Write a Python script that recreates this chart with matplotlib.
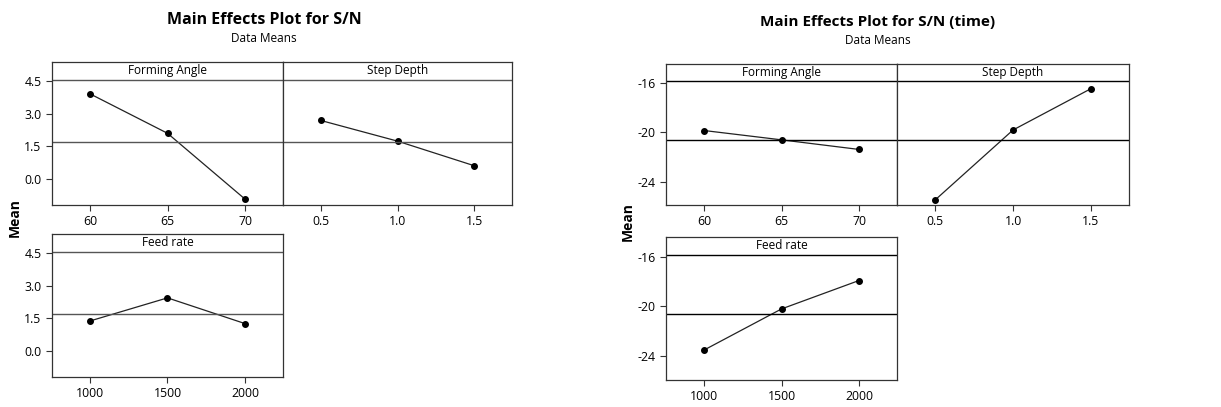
import numpy as np
import matplotlib.pyplot as plt

plt.rcParams['font.family'] = ['Open Sans', 'DejaVu Sans']

# factor levels
angle_levels = [60, 65, 70]
depth_levels = [0.5, 1.0, 1.5]
feed_levels = [1000, 1500, 2000]
factor_names = ['Forming Angle', 'Step Depth', 'Feed rate']

# S/N means (left chart)
sn_angle = [3.91, 2.10, -0.92]
sn_depth = [2.69, 1.74, 0.61]
sn_feed = [1.38, 2.44, 1.26]

# S/N (time) means (right chart)
time_angle = [-19.84, -20.60, -21.38]
time_depth = [-25.49, -19.80, -16.44]
time_feed = [-23.50, -20.20, -17.92]

W, H = 1221, 407
fig = plt.figure(figsize=(W / 100, H / 100), dpi=100)


def box(l, t, r, b):
    return fig.add_axes([l / W, 1 - b / H, (r - l) / W, (b - t) / H])


def panel(ax, x, y, name, ylim, head, grand, yticks, fmt, col, show_y):
    pad = (x[-1] - x[0]) * 0.245
    ax.set_xlim(x[0] - pad, x[-1] + pad)
    ax.set_ylim(*ylim)
    ax.plot(x, y, '-', color='#222222', lw=0.9, marker='o', ms=4, mfc='black', mec='black')
    ax.axhline(grand, color=col, lw=1)
    ax.axhline(head, color=col, lw=1)
    ax.text(np.mean(x), (head + ylim[1]) / 2, name, ha='center', va='center', fontsize=8.5)
    ax.set_xticks(x)
    ax.set_xticklabels([fmt[0] % v for v in x], fontsize=8.8)
    ax.set_yticks(yticks)
    if show_y:
        ax.set_yticklabels([fmt[1] % v for v in yticks], fontsize=8.8)
    else:
        ax.tick_params(axis='y', left=False, labelleft=False)
    ax.tick_params(direction='out', length=4, width=0.8, color='#333333')
    for s in ax.spines.values():
        s.set_color('#333333')
        s.set_linewidth(0.9)


# ---- left chart ----
sn_all = sn_angle + sn_depth + sn_feed
g1 = np.mean(sn_all)
yl1 = (-1.19, 5.37)
panel(box(52, 62, 283, 205), angle_levels, sn_angle, factor_names[0], yl1, 4.56, g1,
      [0, 1.5, 3.0, 4.5], ('%d', '%.1f'), '#555555', True)
panel(box(283, 62, 512, 205), depth_levels, sn_depth, factor_names[1], yl1, 4.56, g1,
      [0, 1.5, 3.0, 4.5], ('%.1f', '%.1f'), '#555555', False)
panel(box(52, 234, 283, 377), feed_levels, sn_feed, factor_names[2], yl1, 4.56, g1,
      [0, 1.5, 3.0, 4.5], ('%d', '%.1f'), '#555555', True)
fig.text(264 / W, 1 - 20 / H, 'Main Effects Plot for S/N', ha='center', va='center',
         fontsize=11.5, fontweight='bold')
fig.text(264 / W, 1 - 39 / H, 'Data Means', ha='center', va='center', fontsize=8.5)
fig.text(15 / W, 1 - 218 / H, 'Mean', ha='center', va='center', rotation=90,
         fontsize=10, fontweight='bold')

# ---- right chart ----
t_all = time_angle + time_depth + time_feed
g2 = np.mean(t_all)
yl2 = (-25.9, -14.43)
panel(box(666, 64, 897, 205), angle_levels, time_angle, factor_names[0], yl2, -15.84, g2,
      [-24, -20, -16], ('%d', '%d'), 'black', True)
panel(box(897, 64, 1129, 205), depth_levels, time_depth, factor_names[1], yl2, -15.84, g2,
      [-24, -20, -16], ('%.1f', '%d'), 'black', False)
panel(box(666, 237, 897, 380), feed_levels, time_feed, factor_names[2], yl2, -15.84, g2,
      [-24, -20, -16], ('%d', '%d'), 'black', True)
fig.text(878 / W, 1 - 22 / H, 'Main Effects Plot for S/N (time)', ha='center', va='center',
         fontsize=11, fontweight='bold')
fig.text(878 / W, 1 - 40 / H, 'Data Means', ha='center', va='center', fontsize=8.5)
fig.text(628 / W, 1 - 222 / H, 'Mean', ha='center', va='center', rotation=90,
         fontsize=10, fontweight='bold')

fig.savefig('out.png', dpi=100)
